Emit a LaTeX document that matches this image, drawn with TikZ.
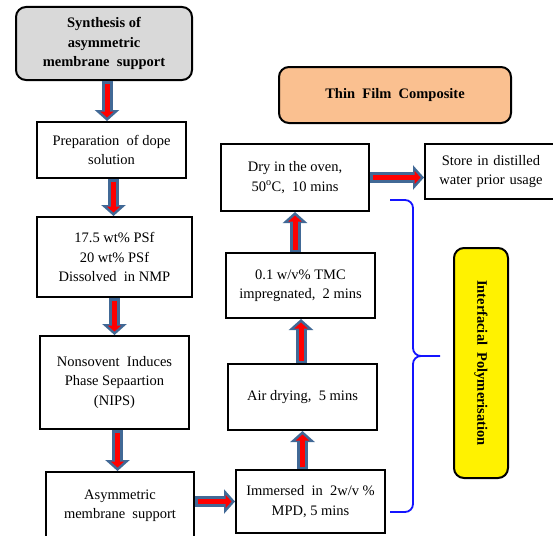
\documentclass[tikz,border=0pt]{standalone}
\usepackage{fontspec}
\setmainfont{Liberation Serif}
\usetikzlibrary{calc,arrows.meta}
\definecolor{arrowblue}{RGB}{65,105,150}
\definecolor{boxgray}{RGB}{217,217,217}
\definecolor{boxorange}{RGB}{250,192,144}
\definecolor{braceblue}{RGB}{20,20,255}
\tikzset{
  box/.style={draw, line width=2pt, align=center, inner sep=0pt, font=\fontsize{14.5}{19.5}\selectfont},
  roundbox/.style={box, rounded corners=10pt, font=\bfseries\fontsize{14.5}{19.5}\selectfont},
  fatouter/.style={draw=arrowblue, line width=11pt, -{Triangle[length=11pt,width=24pt]}},
  fatinner/.style={draw=red, line width=5pt, shorten <=2.5pt, shorten >=3.5pt, -{Triangle[length=6pt,width=13pt]}},
  bracestyle/.style={draw=braceblue, line width=1.8pt, line join=round}
}
\begin{document}
\begin{tikzpicture}[x=1pt,y=1pt]
\useasboundingbox (0,0) rectangle (553,-535);
\clip (0,0) rectangle (553,-535);
% left column
\node[roundbox, fill=boxgray, minimum width=176pt, minimum height=73pt] (syn) at (104,-43.5) {Synthesis of\\asymmetric\\membrane\ \ support};
\node[box, minimum width=149pt, minimum height=56pt] (prep) at (111.5,-150) {Preparation\ \ of dope\\solution};
\node[box, minimum width=155pt, minimum height=80pt] (psf) at (114.5,-257) {17.5 wt\% PSf\\20 wt\% PSf\\Dissolved\ \ in\ NMP};
\node[box, minimum width=149pt, minimum height=93pt] (nips) at (114.5,-382.5) {Nonsovent\ \ Induces\\Phase Sepaartion\\(NIPS)};
\node[box, minimum width=148pt, minimum height=84pt, anchor=north, text depth=20pt] (asym) at (120,-471) {Asymmetric\\membrane\ \ support};
% right column
\node[box, minimum width=149pt, minimum height=63pt] (imm) at (310.5,-501.5) {Immersed\ \ in\ \ 2w/v \%\\MPD, 5 mins};
\node[box, minimum width=149pt, minimum height=66pt] (air) at (302.5,-397) {Air drying,\ \ 5 mins};
\node[box, minimum width=149pt, minimum height=65pt] (tmc) at (300.5,-285.5) {0.1 w/v\% TMC\\impregnated,\ \ 2 mins};
\node[box, minimum width=148pt, minimum height=67pt] (dry) at (295,-177.5) {Dry in the oven,\\50\textsuperscript{o}C,\ \ 10 mins};
\node[box, minimum width=132pt, minimum height=55pt, anchor=west, text width=127pt] (store) at (424,-171.5) {Store in distilled\\water prior usage};
\node[roundbox, fill=boxorange, minimum width=232pt, minimum height=56pt] (tfc) at (395,-95) {Thin\ \ Film\ \ Composite};
\node[roundbox, fill=yellow, rotate=-90, minimum width=230pt, minimum height=54pt] (ip) at (481,-363) {Interfacial\ \ Polymerisation};
% arrow start points
\coordinate (a1) at ([xshift=3pt]syn.south);
\coordinate (a2) at ([xshift=2pt]prep.south);
\coordinate (a3) at (psf.south);
\coordinate (a4) at ([xshift=3pt]nips.south);
\coordinate (a5) at (asym.east |- imm.west);
\coordinate (a6) at ([xshift=-8pt]imm.north);
\coordinate (a7) at ([xshift=-1.5pt]air.north);
\coordinate (a8) at ([xshift=-5.5pt]tmc.north);
\coordinate (a9) at (dry.east);
% arrows
\foreach \s/\t in {a1/prep.north, a2/psf.north, a3/nips.north, a4/asym.north, a6/air.south, a7/tmc.south, a8/dry.south}{
  \draw[fatouter] (\s) -- (\s |- \t);
  \draw[fatinner] (\s) -- (\s |- \t);
}
\foreach \s/\t in {a5/imm.west, a9/store.west}{
  \draw[fatouter] (\s) -- (\s -| \t);
  \draw[fatinner] (\s) -- (\s -| \t);
}
% brace
\coordinate (btop) at (390,-200);
\coordinate (btip) at (440,-356);
\coordinate (bbot) at (390,-512);
\draw[bracestyle] (btop) -- (405,-200) to[out=0,in=90] (413,-208) -- (413,-348) to[out=-90,in=180] (421,-356) -- (btip);
\draw[bracestyle] (421,-356) to[out=180,in=90] (413,-364) -- (413,-504) to[out=-90,in=0] (405,-512) -- (bbot);
\end{tikzpicture}
\end{document}
